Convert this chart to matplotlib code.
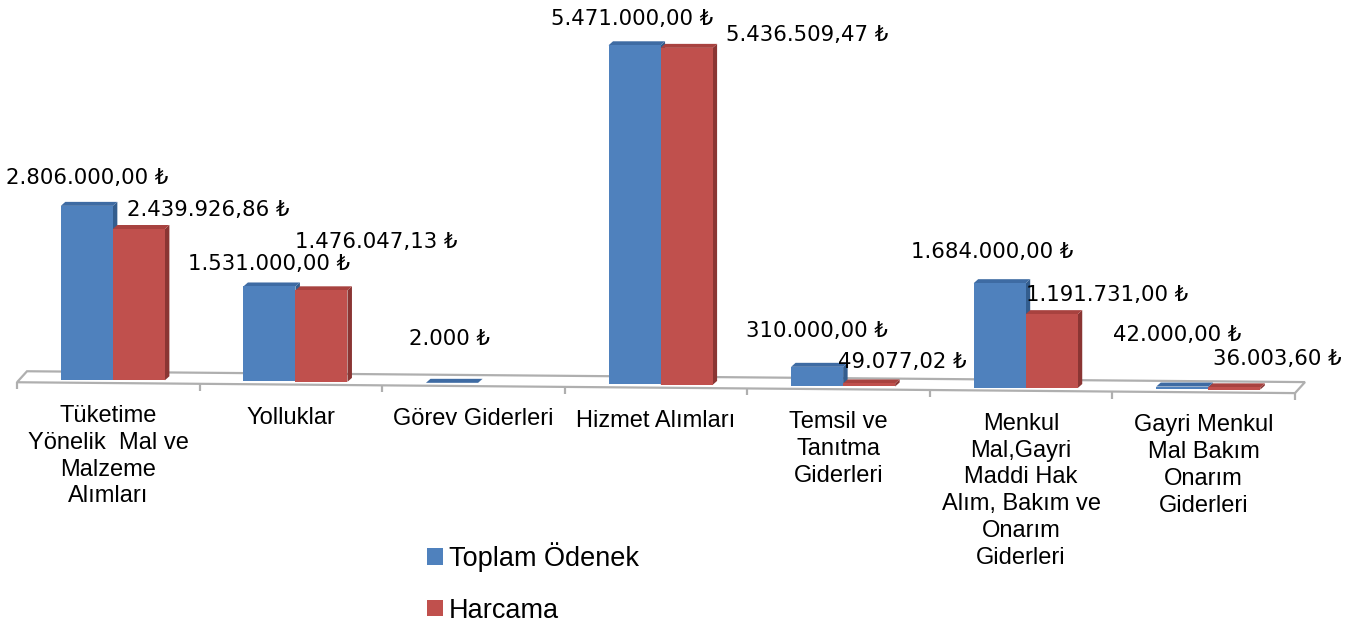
import matplotlib
matplotlib.use("Agg")
import matplotlib.pyplot as plt
from matplotlib.patches import Polygon, Patch

# ---------------- data ----------------
categories = [
    "Tüketime\nYönelik  Mal ve\nMalzeme\nAlımları",
    "Yolluklar",
    "Görev Giderleri",
    "Hizmet Alımları",
    "Temsil ve\nTanıtma\nGiderleri",
    "Menkul\nMal,Gayri\nMaddi Hak\nAlım, Bakım ve\nOnarım\nGiderleri",
    "Gayri Menkul\nMal Bakım\nOnarım\nGiderleri",
]
series_names = ["Toplam Ödenek", "Harcama"]
toplam_odenek = [2806000.00, 1531000.00, 2000.00, 5471000.00, 310000.00, 1684000.00, 42000.00]
harcama = [2439926.86, 1476047.13, 0.00, 5436509.47, 49077.02, 1191731.00, 36003.60]
toplam_decimals = [2, 2, 0, 2, 2, 2, 2]
harcama_decimals = [2, 2, 2, 2, 2, 2, 2]

# label offsets from top of bar (pixels: dx, dy up)
toplam_label_offsets = [(0, 28), (0, 22), (-3, 44), (-2, 26), (0, 36), (-8, 31), (-5, 52)]
harcama_label_offsets = [(69, 19), (55, 48), (0, 0), (121, 13), (33, 21), (55, 19), (43, 28)]

# ---------------- style ----------------
front_cols = ["#4F81BD", "#C0504D"]
top_cols = ["#3E6BA3", "#A8423F"]
side_cols = ["#335D8E", "#8A3533"]
floor_col = "#AFAFAF"

W, H = 1364, 621
fig = plt.figure(figsize=(W / 100, H / 100), dpi=100)
ax = fig.add_axes([0, 0, 1, 1])
ax.axis("off")

# pixel <-> data scales
PX_PER_CAT = 182.57
PX_PER_MTL = 62.0
UX = 1.0 / PX_PER_CAT          # data-x per pixel
UY = 1e6 / PX_PER_MTL          # data-y per pixel
x_left_px = 17
y0_row = 379.25
ax.set_xlim(-x_left_px * UX, (W - x_left_px) * UX)
ax.set_ylim((y0_row - H) * UY, y0_row * UY)

tilt = -1.55 * UY              # floor slope (data-y per category)
n = len(categories)


def base(x):
    return tilt * x


# ---------------- floor ----------------
front_off, back_off, back_dx = -3 * UY, 8 * UY, 10 * UX
floor = [
    (0, base(0) + front_off),
    (n, base(n) + front_off),
    (n + back_dx, base(n) + back_off),
    (back_dx, base(0) + back_off),
]
ax.add_patch(Polygon(floor, closed=True, facecolor="white", edgecolor=floor_col,
                     linewidth=1.6, zorder=0.5))
for i in range(n + 1):
    y_top = base(i) + front_off
    ax.plot([i, i], [y_top, y_top - 7 * UY], color=floor_col, linewidth=1.6, zorder=0.6,
            solid_capstyle="butt")

# ---------------- bars ----------------
bw = 0.285
shift = 0.025
dx3, dy3 = 4.5 * UX, 4 * UY
series = [toplam_odenek, harcama]
decs = [toplam_decimals, harcama_decimals]
offs = [toplam_label_offsets, harcama_label_offsets]


def fmt(v, d):
    s = f"{v:,.{d}f}"
    s = s.replace(",", "X").replace(".", ",").replace("X", ".")
    return s + " \u20ba"


for s, vals in enumerate(series):
    xs = [i + 0.5 + shift + (s - 0.5) * bw for i in range(n)]
    bottoms = [base(x) for x in xs]
    bars = ax.bar(xs, vals, width=bw, bottom=bottoms, color=front_cols[s],
                  linewidth=0, zorder=2 + s)
    for i, b in enumerate(bars):
        if vals[i] <= 0:
            continue
        x0, x1 = b.get_x(), b.get_x() + b.get_width()
        y0, y1 = b.get_y(), b.get_y() + b.get_height()
        side = [(x1, y0), (x1 + dx3, y0 + dy3), (x1 + dx3, y1 + dy3), (x1, y1)]
        top = [(x0, y1), (x1, y1), (x1 + dx3, y1 + dy3), (x0 + dx3, y1 + dy3)]
        ax.add_patch(Polygon(side, closed=True, facecolor=side_cols[s], linewidth=0,
                             zorder=1.9 + s))
        ax.add_patch(Polygon(top, closed=True, facecolor=top_cols[s], linewidth=0,
                             zorder=1.95 + s))
        ox, oy = offs[s][i]
        ax.annotate(fmt(vals[i], decs[s][i]), xy=((x0 + x1) / 2, y1),
                    xytext=(ox, oy), textcoords="offset pixels",
                    ha="center", va="center", fontsize=15.3,
                    family=["DejaVu Sans"], color="black", zorder=5)

# ---------------- category labels ----------------
for i, c in enumerate(categories):
    xc = i + 0.5
    ax.text(xc, base(xc) - 25 * UY, c, ha="center", va="top", fontsize=17,
            family=["Liberation Sans", "DejaVu Sans"], linespacing=1.28,
            multialignment="center", color="black")

# ---------------- legend ----------------
handles = [Patch(facecolor=front_cols[k], edgecolor="none") for k in range(2)]
leg = ax.legend(handles, series_names, loc="upper left",
                bbox_to_anchor=(427 / W, 1 - 542 / H), bbox_transform=fig.transFigure,
                frameon=False, borderpad=0, borderaxespad=0,
                handlelength=0.58, handleheight=0.58, handletextpad=0.22,
                labelspacing=0.95, prop={"family": "Liberation Sans", "size": 19.5})

fig.savefig("out.png", dpi=100)
